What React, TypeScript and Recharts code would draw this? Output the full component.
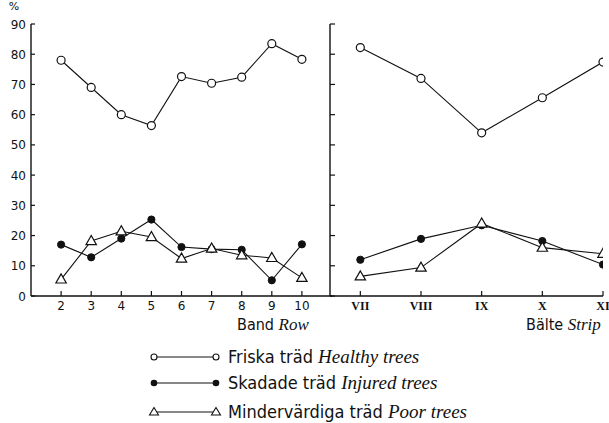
import React from 'react';
import { LineChart, Line, XAxis, YAxis } from 'recharts';

// ---- data ----
const rowCategories = [2, 3, 4, 5, 6, 7, 8, 9, 10];
const rowHealthy = [78, 69, 60, 56.4, 72.6, 70.4, 72.4, 83.5, 78.3];
const rowInjured = [17, 12.8, 19, 25.3, 16.2, 15.5, 15.3, 5.2, 17.1];
const rowPoor = [5.5, 18.2, 21.4, 19.5, 12.4, 15.7, 13.5, 12.6, 6];

const stripCategories = [7, 8, 9, 10, 11];
const stripLabels = ['VII', 'VIII', 'IX', 'X', 'XI'];
const stripHealthy = [82.2, 72, 54, 65.6, 77.4];
const stripInjured = [12, 18.9, 23.4, 18.2, 10.4];
const stripPoor = [6.5, 9.4, 24, 16, 14];

const yTicks = [0, 10, 20, 30, 40, 50, 60, 70, 80, 90];

const seriesNames = ['Friska träd', 'Skadade träd', 'Mindervärdiga träd'];
const seriesNamesEn = ['Healthy trees', 'Injured trees', 'Poor trees'];
const seriesKeys = ['healthy', 'injured', 'poor'];

const rowData = rowCategories.map((c, i) => ({
  x: c,
  healthy: rowHealthy[i],
  injured: rowInjured[i],
  poor: rowPoor[i],
}));
const stripData = stripCategories.map((c, i) => ({
  x: c,
  healthy: stripHealthy[i],
  injured: stripInjured[i],
  poor: stripPoor[i],
}));

const INK = '#111';
const SANS = '"DejaVu Sans", sans-serif';
const COND = '"DejaVu Sans Condensed", "DejaVu Sans", sans-serif';
const ITAL = '"Liberation Serif", serif';
const SERIF = '"Liberation Serif", serif';

// ---- markers ----
const OpenCircle = (p: any) => {
  if (p.cx == null || p.cy == null) return <g key={p.index} />;
  return <circle key={p.index} cx={p.cx} cy={p.cy} r={4} fill="#fff" stroke={INK} strokeWidth={1.2} />;
};
const FilledCircle = (p: any) => {
  if (p.cx == null || p.cy == null) return <g key={p.index} />;
  return <circle key={p.index} cx={p.cx} cy={p.cy} r={3.6} fill={INK} stroke={INK} strokeWidth={1} />;
};
const Triangle = (p: any) => {
  if (p.cx == null || p.cy == null) return <g key={p.index} />;
  const { cx, cy } = p;
  const pts = `${cx},${cy - 5.5} ${cx - 5.2},${cy + 3.6} ${cx + 5.2},${cy + 3.6}`;
  return <polygon key={p.index} points={pts} fill="#fff" stroke={INK} strokeWidth={1.2} strokeLinejoin="miter" />;
};
const dotFor = [OpenCircle, FilledCircle, Triangle];

// ---- ticks ----
const LeftYTick = (p: any) => (
  <g>
    <line x1={p.x} x2={p.x + 4} y1={p.y} y2={p.y} stroke={INK} strokeWidth={1.2} />
    <text x={p.x - 5} y={p.y} dy={4.5} textAnchor="end" fontFamily={SANS} fontSize={12} fill={INK}>
      {p.payload.value}
    </text>
  </g>
);
const RightYTick = (p: any) => (
  <g>
    <line x1={p.x} x2={p.x + 5} y1={p.y} y2={p.y} stroke={INK} strokeWidth={1.2} />
  </g>
);
const RowXTick = (p: any) => (
  <g>
    <line x1={p.x} x2={p.x} y1={p.y} y2={p.y - 5} stroke={INK} strokeWidth={1.2} />
    <text x={p.x} y={p.y + 14} textAnchor="middle" fontFamily={SANS} fontSize={12} fill={INK}>
      {p.payload.value}
    </text>
  </g>
);
const StripXTick = (p: any) => {
  const idx = stripCategories.indexOf(p.payload.value);
  return (
    <g>
      <line x1={p.x} x2={p.x} y1={p.y} y2={p.y - 5} stroke={INK} strokeWidth={1.2} />
      <text x={p.x} y={p.y + 14} textAnchor="middle" fontFamily={SERIF} fontWeight="bold" fontSize={12} fill={INK}>
        {idx >= 0 ? stripLabels[idx] : ''}
      </text>
    </g>
  );
};

const renderLines = () =>
  seriesKeys.map((k, i) => (
    <Line
      key={k}
      dataKey={k}
      type="linear"
      stroke={INK}
      strokeWidth={1.1}
      dot={dotFor[i]}
      activeDot={false}
      isAnimationActive={false}
    />
  ));

export default function App() {
  return (
    <div style={{ position: 'absolute', left: 0, top: 0, width: 609, height: 423, background: '#fff' }}>
      <div style={{ position: 'absolute', left: 0, top: 0 }}>
        <LineChart width={345} height={330} data={rowData} margin={{ top: 24, right: 13, left: 0, bottom: 4 }}>
          <XAxis
            dataKey="x"
            type="number"
            domain={[1, 11]}
            ticks={rowCategories}
            allowDataOverflow
            height={30}
            stroke={INK}
            axisLine={{ stroke: INK, strokeWidth: 1.4 }}
            tickLine={false}
            tickSize={0}
            tickMargin={0}
            tick={RowXTick}
            interval={0}
          />
          <YAxis
            type="number"
            domain={[0, 90]}
            ticks={yTicks}
            width={31}
            axisLine={{ stroke: INK, strokeWidth: 1.4 }}
            tickLine={false}
            tickSize={0}
            tickMargin={0}
            tick={LeftYTick}
            interval={0}
          />
          {renderLines()}
        </LineChart>
      </div>
      <div style={{ position: 'absolute', left: 300, top: 0 }}>
        <LineChart width={309} height={330} data={stripData} margin={{ top: 24, right: 6, left: 0, bottom: 4 }}>
          <XAxis
            dataKey="x"
            type="number"
            domain={[6.5, 11]}
            ticks={stripCategories}
            allowDataOverflow
            height={30}
            axisLine={{ stroke: INK, strokeWidth: 1.4 }}
            tickLine={false}
            tickSize={0}
            tickMargin={0}
            tick={StripXTick}
            interval={0}
          />
          <YAxis
            type="number"
            domain={[0, 90]}
            ticks={yTicks}
            width={30}
            axisLine={{ stroke: INK, strokeWidth: 1.4 }}
            tickLine={false}
            tickSize={0}
            tickMargin={0}
            tick={RightYTick}
            interval={0}
          />
          {renderLines()}
        </LineChart>
      </div>
      <svg width={609} height={423} style={{ position: 'absolute', left: 0, top: 0, pointerEvents: 'none' }}>
        <text x={14} y={10} textAnchor="middle" fontFamily={SANS} fontSize={11} fill={INK}>%</text>
        <text x={237} y={330} fontFamily={COND} fontSize={16} fill={INK}>
          Band <tspan fontFamily={ITAL} fontStyle="italic" fontSize={17}>Row</tspan>
        </text>
        <text x={526} y={330} fontFamily={COND} fontSize={16} fill={INK}>
          Bälte <tspan fontFamily={ITAL} fontStyle="italic" fontSize={17}>Strip</tspan>
        </text>
        {seriesNames.map((name, i) => {
          const cy = [357, 383, 412][i];
          const x1 = 154;
          const x2 = 216;
          const markers =
            i === 0 ? (
              <>
                <circle cx={x1} cy={cy} r={3} fill="#fff" stroke={INK} strokeWidth={1.1} />
                <circle cx={x2} cy={cy} r={3} fill="#fff" stroke={INK} strokeWidth={1.1} />
              </>
            ) : i === 1 ? (
              <>
                <circle cx={x1} cy={cy} r={3.3} fill={INK} />
                <circle cx={x2} cy={cy} r={3.3} fill={INK} />
              </>
            ) : (
              <>
                <polygon points={`${x1},${cy - 4.5} ${x1 - 4.5},${cy + 3} ${x1 + 4.5},${cy + 3}`} fill="#fff" stroke={INK} strokeWidth={1.1} />
                <polygon points={`${x2},${cy - 4.5} ${x2 - 4.5},${cy + 3} ${x2 + 4.5},${cy + 3}`} fill="#fff" stroke={INK} strokeWidth={1.1} />
              </>
            );
          return (
            <g key={name}>
              <line x1={x1 + 3} x2={x2 - 3} y1={cy} y2={cy} stroke={INK} strokeWidth={1.1} />
              {markers}
              <text x={228} y={cy + 6} fontFamily={COND} fontSize={18} fill={INK}>
                {name}{' '}
                <tspan fontFamily={ITAL} fontStyle="italic" fontSize={19}>{seriesNamesEn[i]}</tspan>
              </text>
            </g>
          );
        })}
      </svg>
    </div>
  );
}
